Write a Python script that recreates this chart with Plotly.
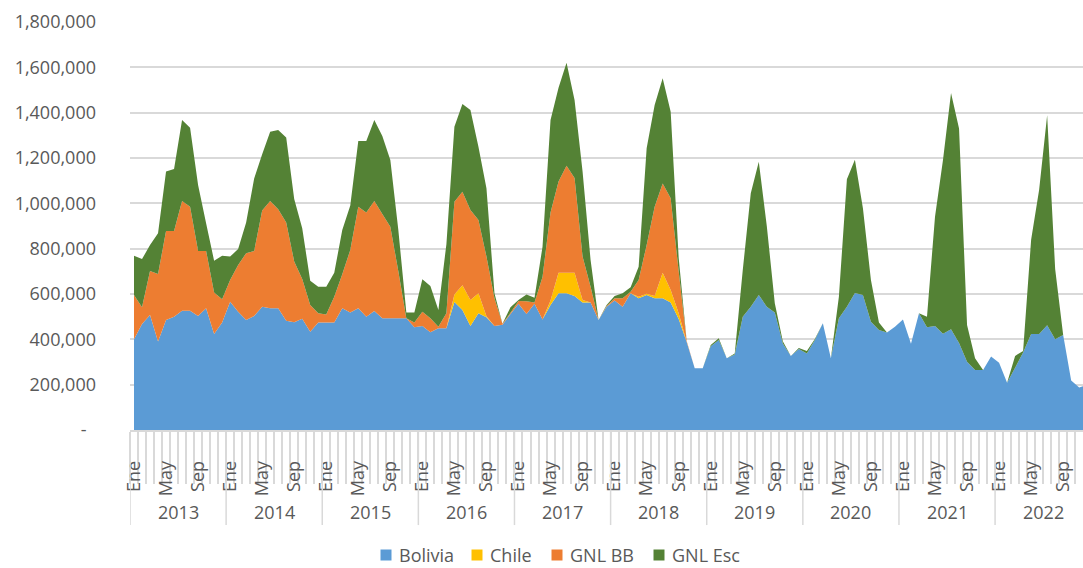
import plotly.graph_objects as go

# Monthly volumes by source, in thousands, January 2013 .. December 2022
years = [2013, 2014, 2015, 2016, 2017, 2018, 2019, 2020, 2021, 2022]
months = ["Ene", "Feb", "Mar", "Abr", "May", "Jun", "Jul", "Ago", "Sep", "Oct", "Nov", "Dic"]

bolivia = [
    400, 468, 507, 390, 485, 500, 526, 526, 503, 537, 424, 474,
    566, 522, 485, 503, 544, 537, 537, 482, 475, 491, 434, 474,
    474, 474, 537, 518, 537, 500, 525, 493, 493, 493, 493, 453,
    459, 431, 449, 449, 565, 529, 459, 515, 497, 459, 464, 512,
    557, 512, 557, 487, 551, 603, 603, 591, 562, 562, 485, 544,
    571, 544, 603, 581, 596, 581, 581, 562, 490, 388, 272, 272,
    370, 397, 316, 333, 500, 544, 596, 544, 518, 382, 326, 357,
    338, 397, 471, 316, 493, 544, 604, 596, 478, 441, 430, 456,
    488, 380, 515, 453, 459, 425, 445, 384, 301, 265, 265, 324,
    297, 208, 275, 342, 423, 423, 462, 400, 419, 218, 188, 198,
]
chile = [
    0, 0, 0, 0, 0, 0, 0, 0, 0, 0, 0, 0,
    0, 0, 0, 0, 0, 0, 0, 0, 0, 0, 0, 0,
    0, 0, 0, 0, 0, 0, 0, 0, 0, 0, 0, 0,
    0, 0, 0, 0, 33, 110, 115, 88, 5, 0, 0, 0,
    0, 0, 0, 0, 20, 91, 91, 103, 12, 0, 0, 0,
    0, 0, 0, 7, 5, 10, 113, 56, 25, 0, 0, 0,
    0, 0, 0, 0, 0, 0, 0, 0, 0, 0, 0, 0,
    0, 0, 0, 0, 0, 0, 0, 0, 0, 0, 0, 0,
    0, 0, 0, 0, 0, 0, 0, 0, 0, 0, 0, 0,
    0, 0, 0, 0, 0, 0, 0, 0, 0, 0, 0, 0,
]
gnl_bb = [
    196, 73, 194, 298, 393, 378, 484, 459, 287, 253, 183, 103,
    96, 206, 295, 287, 424, 473, 437, 433, 268, 175, 117, 41,
    36, 114, 150, 276, 448, 460, 485, 460, 404, 207, 0, 21,
    63, 62, 7, 66, 409, 412, 397, 324, 263, 122, 5, 5,
    12, 56, 5, 188, 389, 402, 472, 418, 191, 70, 0, 3,
    10, 37, 7, 74, 215, 394, 394, 404, 185, 5, 0, 0,
    0, 0, 0, 0, 0, 0, 0, 0, 0, 0, 0, 0,
    0, 0, 0, 0, 0, 0, 0, 0, 0, 0, 0, 0,
    0, 0, 0, 0, 0, 0, 0, 0, 0, 0, 0, 0,
    0, 0, 0, 0, 0, 0, 0, 0, 0, 0, 0, 0,
]
gnl_esc = [
    173, 213, 115, 180, 262, 274, 358, 349, 291, 122, 140, 192,
    103, 71, 135, 320, 248, 306, 350, 375, 276, 224, 108, 117,
    122, 106, 195, 196, 290, 315, 358, 344, 294, 182, 25, 44,
    143, 142, 73, 305, 331, 387, 441, 323, 301, 22, 0, 24,
    5, 30, 22, 133, 408, 414, 454, 344, 375, 118, 0, 4,
    10, 22, 20, 58, 427, 449, 464, 382, 60, 0, 0, 0,
    5, 8, 0, 5, 206, 500, 588, 356, 41, 10, 0, 5,
    10, 5, 0, 0, 95, 562, 588, 382, 184, 33, 0, 0,
    0, 0, 0, 47, 482, 767, 1042, 946, 162, 51, 0, 0,
    0, 0, 52, 7, 416, 637, 927, 310, 0, 0, 0, 0,
]

series = [
    ("Bolivia", bolivia, "#5B9BD5"),
    ("Chile", chile, "#FFC000"),
    ("GNL BB", gnl_bb, "#ED7D31"),
    ("GNL Esc", gnl_esc, "#548235"),
]

y_ticks = [0, 200000, 400000, 600000, 800000, 1000000, 1200000, 1400000, 1600000, 1800000]

FONT = "Open Sans"
TXT = "#595959"
GRID = "#d9d9d9"

W, H = 1083, 568
M_L, M_T, M_B = 130, 22, 138
plot_w = W - M_L
plot_h = H - M_T - M_B
month_px = 8.01

n = len(years) * len(months)
xs = [i + 0.5 for i in range(n)]  # each month sits in the middle of its slot

fig = go.Figure()
for name, vals, color in series:
    fig.add_trace(go.Scatter(
        x=xs, y=[v * 1000 for v in vals], name=name,
        stackgroup="one", mode="none", fillcolor=color,
        line=dict(width=0), showlegend=False, hoverinfo="x+y+name",
    ))

# month labels every four months, year group labels and separators
tickvals = [xs[i] for i in range(n) if i % 4 == 0]
ticktext = [months[i % 12] for i in range(n) if i % 4 == 0]

shapes = []
annotations = []
for k, yr in enumerate(years):
    x0 = k * len(months)
    shapes.append(dict(type="line", xref="x", yref="paper", x0=x0, x1=x0,
                       y0=0, y1=-0.233, line=dict(color=GRID, width=1.5)))
    annotations.append(dict(xref="x", yref="paper", x=x0 + len(months) / 2, y=-0.2,
                            text=str(yr), showarrow=False, yanchor="middle",
                            font=dict(family=FONT, size=18, color=TXT)))

# legend row below the chart: square key + series name
key_px = [386, 477, 557, 659]   # key centres, pixels from the left edge
key_py = 555                    # legend row centre, pixels from the top
key_size = 11


def px_to_paper_x(px):
    return (px - M_L) / plot_w


def py_to_paper_y(py):
    return (H - M_B - py) / plot_h


for (name, _, color), cx in zip(series, key_px):
    shapes.append(dict(
        type="rect", xref="paper", yref="paper", line=dict(width=0), fillcolor=color,
        x0=px_to_paper_x(cx - key_size / 2), x1=px_to_paper_x(cx + key_size / 2),
        y0=py_to_paper_y(key_py + key_size / 2), y1=py_to_paper_y(key_py - key_size / 2),
    ))
    annotations.append(dict(
        xref="paper", yref="paper", x=px_to_paper_x(cx + key_size / 2 + 6),
        y=py_to_paper_y(key_py), xanchor="left", yanchor="middle", borderpad=0,
        text=name, showarrow=False, font=dict(family=FONT, size=18, color=TXT),
    ))

fig.update_layout(
    width=W, height=H,
    margin=dict(l=M_L, r=0, t=M_T, b=M_B),
    paper_bgcolor="white", plot_bgcolor="white",
    shapes=shapes, annotations=annotations,
    showlegend=False,
    xaxis=dict(
        range=[0, plot_w / month_px], showgrid=False, zeroline=False,
        showline=True, linecolor=GRID, linewidth=1.5, automargin=False,
        tickmode="array", tickvals=tickvals, ticktext=ticktext,
        tickangle=-90, ticks="", ticklabelstandoff=22,
        tickfont=dict(family=FONT, size=18, color=TXT),
        minor=dict(ticks="outside", ticklen=52, tickwidth=1.5, tickcolor=GRID,
                   tick0=0, dtick=1, showgrid=False),
    ),
    yaxis=dict(
        range=[0, 1800000], tickmode="array", tickvals=y_ticks, automargin=False,
        ticktext=["-\u00a0\u00a0"] + [f"{v:,}" for v in y_ticks[1:]],
        showgrid=True, gridcolor=GRID, gridwidth=1.5, zeroline=False,
        showline=False, ticks="", ticklabelstandoff=33,
        tickfont=dict(family=FONT, size=18, color=TXT),
    ),
)

fig.write_html("out.html")
